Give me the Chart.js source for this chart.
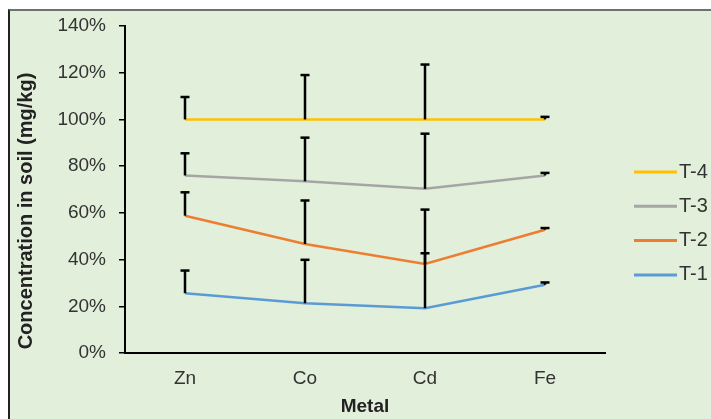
<!DOCTYPE html>
<html>
<head>
<meta charset="utf-8">
<script src="https://cdn.jsdelivr.net/npm/chart.js@4"></script>
<style>
body { margin: 0; background: #fff; }
#wrap { position: absolute; left: 8px; top: 9px; width: 701px; height: 408px; background: #e2efda; border-left: 2px solid #222; border-top: 2px solid #707070; }
</style>
</head>
<body>
<div id="wrap"><canvas id="myChart" width="701" height="408"></canvas></div>
<script>
// metals on the x axis
var metals = ['Zn', 'Co', 'Cd', 'Fe'];
var seriesNames = ['T-1', 'T-2', 'T-3', 'T-4'];
var seriesColors = ['#5B9BD5', '#ED7D31', '#A5A5A5', '#FFC000'];

// share of each treatment (%), stacked to 100
var t1 = [25.6, 21.3, 19.2, 29.2];
var t2 = [33.2, 25.4, 18.9, 23.6];
var t3 = [17.2, 26.8, 32.2, 23.2];
var t4 = [24.0, 26.5, 29.7, 24.0];

// plus error bars
var t1Err = [9.7, 18.6, 23.5, 1.0];
var t2Err = [10.0, 18.6, 23.3, 0.7];
var t3Err = [9.5, 18.7, 23.6, 1.1];
var t4Err = [9.6, 19.0, 23.5, 1.1];

var yTicks = [0, 20, 40, 60, 80, 100, 120, 140];

var values = [t1, t2, t3, t4];
var errs = [t1Err, t2Err, t3Err, t4Err];

var TXT = '#333';
var FONT = "'Liberation Sans', Arial, sans-serif";

var errorBars = {
  id: 'errorBars',
  afterDatasetsDraw: function(chart) {
    var ctx = chart.ctx;
    var y = chart.scales.y;
    var sum = [0, 0, 0, 0];
    ctx.save();
    ctx.strokeStyle = '#000';
    ctx.lineWidth = 2.5;
    chart.data.datasets.forEach(function(ds, i) {
      var meta = chart.getDatasetMeta(i);
      ds.data.forEach(function(v, j) {
        sum[j] += v;
        var px = meta.data[j].x;
        var y0 = y.getPixelForValue(sum[j]);
        var y1 = y.getPixelForValue(sum[j] + errs[i][j]);
        ctx.beginPath();
        ctx.moveTo(px, y0);
        ctx.lineTo(px, y1);
        ctx.stroke();
        ctx.beginPath();
        ctx.moveTo(px - 4.5, y1);
        ctx.lineTo(px + 4.5, y1);
        ctx.stroke();
      });
    });
    ctx.restore();
  }
};

// legend on the right, T-4 on top, and the y title centred on the whole chart
var extras = {
  id: 'extras',
  afterDraw: function(chart) {
    var ctx = chart.ctx;
    var area = chart.chartArea;
    ctx.save();
    var n = chart.data.datasets.length;
    for (var k = 0; k < n; k++) {
      var ds = chart.data.datasets[n - 1 - k];
      var ly = 161 + k * 34.3;
      ctx.strokeStyle = ds.borderColor;
      ctx.lineWidth = 3;
      ctx.beginPath();
      ctx.moveTo(area.right + 29, ly);
      ctx.lineTo(area.right + 72, ly);
      ctx.stroke();
      ctx.fillStyle = TXT;
      ctx.font = '20px ' + FONT;
      ctx.textBaseline = 'middle';
      ctx.textAlign = 'left';
      ctx.fillText(ds.label, area.right + 74, ly);
    }
    ctx.translate(16, 200);
    ctx.rotate(-Math.PI / 2);
    ctx.fillStyle = '#222';
    ctx.font = 'bold 20px ' + FONT;
    ctx.textAlign = 'center';
    ctx.textBaseline = 'middle';
    ctx.fillText('Concentration in soil (mg/kg)', 0, 0);
    ctx.restore();
  }
};

var datasets = [];
for (var i = 0; i < seriesNames.length; i++) {
  datasets.push({
    label: seriesNames[i],
    data: values[i],
    borderColor: seriesColors[i],
    backgroundColor: seriesColors[i],
    borderWidth: 2.5,
    pointRadius: 0,
    tension: 0,
    fill: false
  });
}

new Chart('myChart', {
  type: 'line',
  data: { labels: metals, datasets: datasets },
  options: {
    responsive: false,
    animation: false,
    layout: { padding: { left: 0, top: 15, right: 106, bottom: 0 } },
    plugins: { legend: { display: false }, tooltip: { enabled: false } },
    scales: {
      x: {
        offset: true,
        grid: { drawOnChartArea: false, drawTicks: false },
        border: { color: '#000', width: 2 },
        ticks: { color: TXT, font: { family: FONT, size: 19 }, padding: 14 },
        title: { display: true, text: 'Metal', color: '#222', font: { family: FONT, size: 19, weight: 'bold' }, padding: { top: 0, bottom: 1 } },
        afterFit: function(s) { s.height = 66; }
      },
      y: {
        stacked: true,
        min: 0,
        max: 140,
        afterBuildTicks: function(s) { s.ticks = yTicks.map(function(v) { return { value: v }; }); },
        grid: { drawOnChartArea: false, color: '#000', lineWidth: 1.5, tickLength: 6 },
        border: { color: '#000', width: 2 },
        ticks: { color: TXT, font: { family: FONT, size: 19 }, padding: 13, callback: function(v) { return v + '%'; } },
        afterFit: function(s) { s.width = 115; s.paddingTop = 0; s.paddingBottom = 0; }
      }
    }
  },
  plugins: [errorBars, extras]
});
</script>
</body>
</html>
